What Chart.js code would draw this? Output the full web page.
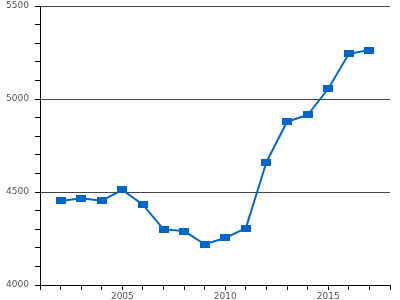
<!DOCTYPE html>
<html>
<head>
<meta charset="utf-8">
<script src="https://cdn.jsdelivr.net/npm/chart.js@4/dist/chart.umd.min.js"></script>
<style>
  html, body { margin: 0; padding: 0; background: #fff; }
  #wrap { width: 400px; height: 300px; }
</style>
</head>
<body>
<div id="wrap"><canvas id="c"></canvas></div>
<script>
var years = [2002, 2003, 2004, 2005, 2006, 2007, 2008, 2009, 2010, 2011, 2012, 2013, 2014, 2015, 2016, 2017];
var values = [4452, 4466, 4453, 4511, 4432, 4299, 4290, 4219, 4253, 4306, 4661, 4878, 4914, 5055, 5243, 5263];
var xLabelYears = [2005, 2010, 2015];
var yLabelValues = [4000, 4500, 5000, 5500];

var blue = '#0066cc';

// flat rectangular marker
var marker = document.createElement('canvas');
marker.width = 10;
marker.height = 7;
var mctx = marker.getContext('2d');
mctx.fillStyle = blue;
mctx.fillRect(0, 0, 10, 7);

var points = years.map(function (y, i) { return { x: y, y: values[i] }; });

new Chart(document.getElementById('c').getContext('2d'), {
    type: 'line',
    data: {
        datasets: [{
            data: points,
            borderColor: blue,
            borderWidth: 2,
            pointStyle: marker,
            tension: 0
        }]
    },
    options: {
        responsive: true,
        maintainAspectRatio: false,
        animation: false,
        layout: { padding: { top: 0, right: 10, left: 0, bottom: 0 } },
        plugins: { legend: { display: false }, tooltip: { enabled: false } },
        scales: {
            x: {
                type: 'linear',
                min: 2001,
                max: 2018,
                afterFit: function (s) { s.height = 15; },
                border: { color: '#000', width: 1 },
                grid: { drawOnChartArea: false, tickLength: 5, tickColor: '#000' },
                ticks: {
                    stepSize: 1,
                    autoSkip: false,
                    maxRotation: 0,
                    padding: 1,
                    color: '#555',
                    font: { family: 'DejaVu Sans', size: 9 },
                    callback: function (v) { return xLabelYears.indexOf(v) >= 0 ? String(v) : ''; }
                }
            },
            y: {
                min: 4000,
                max: 5500,
                afterFit: function (s) { s.width = 40; s.paddingTop = 5; s.paddingBottom = 0; },
                border: { color: '#000', width: 1 },
                grid: {
                    tickLength: 5,
                    tickColor: '#000',
                    color: function (ctx) {
                        return ctx.tick && yLabelValues.indexOf(ctx.tick.value) >= 0 ? '#444' : 'rgba(0,0,0,0)';
                    }
                },
                ticks: {
                    stepSize: 100,
                    autoSkip: false,
                    padding: 6,
                    color: '#555',
                    font: { family: 'DejaVu Sans', size: 9 },
                    callback: function (v) { return yLabelValues.indexOf(v) >= 0 ? String(v) : ''; }
                }
            }
        }
    }
});
</script>
</body>
</html>
